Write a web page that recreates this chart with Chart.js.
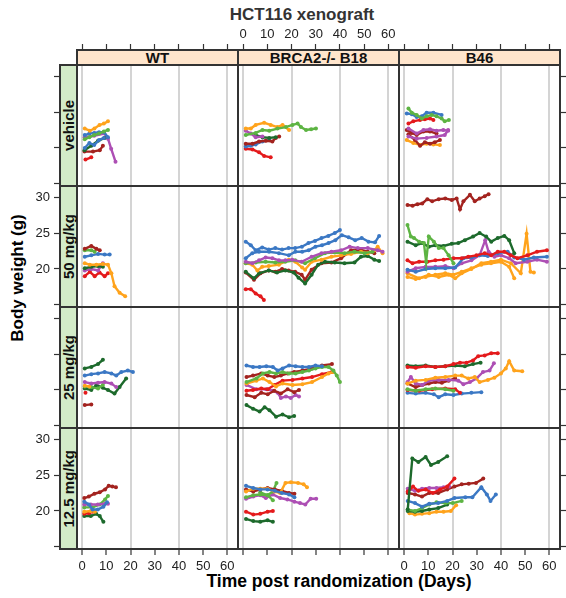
<!DOCTYPE html>
<html>
<head>
<meta charset="utf-8">
<script src="https://cdn.jsdelivr.net/npm/chart.js@4.4.1/dist/chart.umd.min.js"></script>
<style>
  body { margin: 0; background: #fff; font-family: "Liberation Sans", Arial, sans-serif; }
  #wrap { position: relative; width: 566px; height: 598px; overflow: hidden; }
  #wrap canvas { position: absolute; }
  .box { position: absolute; box-sizing: border-box; border: 2px solid #333; }
  .strip { display: flex; align-items: center; justify-content: center; font-weight: bold; font-size: 15px; color: #111; }
  .strip.side span { writing-mode: vertical-rl; transform: rotate(180deg); }
  .txt { position: absolute; font-weight: bold; white-space: nowrap; }
</style>
</head>
<body>
<div id="wrap">
  <div class="txt" style="left:302px;top:15px;transform:translate(-50%,-50%);font-size:17px;color:#333">HCT116 xenograft</div>
  <div class="txt" style="left:18px;top:278px;transform:translate(-50%,-50%) rotate(-90deg);font-size:17px;color:#000">Body weight (g)</div>
  <div class="txt" style="left:339px;top:581px;transform:translate(-50%,-50%);font-size:17.5px;color:#000">Time post randomization (Days)</div>
</div>
<script>
// categories
const lines = ["WT", "BRCA2-/- B18", "B46"];
const doses = ["vehicle", "50 mg/kg", "25 mg/kg", "12.5 mg/kg"];
const weightLabels = [20, 25, 30];

// one entry per mouse: [colour key, days, body weight (g)]
const vehWT = [
  ["orange", [1.1, 3.2, 5.1, 7.2, 9, 10.7], [22.7, 22.4, 22.7, 23.2, 23.4, 23.7]],
  ["green", [1.1, 3, 5, 7, 9, 10.7], [21.2, 21.5, 21.8, 22.0, 22.3, 22.5]],
  ["blue", [1.1, 3, 5, 7, 9, 10.7], [21.8, 22.0, 22.1, 22.2, 22.2, 21.5]],
  ["blue", [1.1, 3, 5, 7, 9], [20.0, 20.7, 20.4, 21.1, 21.4]],
  ["dkgreen", [1, 3.8, 6.6, 9.3], [19.7, 20.3, 21.0, 21.4]],
  ["purple", [1.1, 5, 9.2, 10.7, 12, 13.8], [21.5, 21.7, 22.0, 21.3, 19.9, 18.1]],
  ["dkred", [1, 4.5, 7.3, 8.6], [19.5, 19.5, 19.7, 20.3]],
  ["red", [1.4, 3.8], [18.4, 18.7]]
];
const vehB18 = [
  ["green", [1.1, 5.2, 8, 10.8, 14.2, 17.7, 20.4, 22.5, 23.9, 26, 28.1, 30.1], [21.8, 22.1, 22.5, 22.4, 22.7, 22.9, 23.2, 23.4, 22.9, 22.5, 22.6, 22.7]],
  ["orange", [1.1, 3.2, 5.2, 8.7, 11.4, 14.2, 16.3, 19], [22.7, 22.7, 23.2, 23.5, 23.2, 22.9, 23.2, 22.5]],
  ["purple", [1.1, 3.2, 5.2, 8], [22.4, 22.0, 21.5, 21.6]],
  ["dkgreen", [5.2, 8, 10.8, 13.5], [21.8, 21.5, 21.4, 21.5]],
  ["dkred", [1.1, 3.9, 6.6, 9.4, 12.1, 13.5, 14.9], [20.6, 20.6, 20.9, 21.0, 20.9, 21.4, 21.6]],
  ["blue", [1.1, 3.2, 5.2, 8, 10.8], [20.2, 20.3, 20.5, 20.9, 21.1]],
  ["red", [1.1, 3.9, 6.6, 8.7, 11.4], [19.9, 19.8, 19.4, 18.9, 18.7]]
];
const vehB46 = [
  ["green", [1.8, 3.2, 5.2, 7.3, 9.3, 11.4, 13.4, 15.5, 16.8, 18.5], [25.5, 24.9, 24.6, 24.1, 24.4, 24.6, 24.4, 24.1, 23.7, 23.9]],
  ["blue", [1.1, 3.2, 5.2, 7.3, 9.3, 12.1, 15.5], [24.8, 24.7, 24.3, 24.4, 24.9, 24.9, 24.6]],
  ["red", [1.8, 3.8, 6.6, 8.6, 10.7, 12.1], [23.4, 23.7, 23.9, 24.0, 24.1, 23.9]],
  ["purple", [1.8, 5.2, 8, 10.7, 13.4, 16.2, 18.2], [22.7, 22.0, 22.5, 22.6, 22.4, 22.5, 22.4]],
  ["purple", [1.8, 5.2, 9.3, 13.4, 16.8, 18.2], [21.6, 21.3, 21.4, 21.6, 21.8, 22.5]],
  ["dkred", [1.1, 3.2, 5.2, 8, 10.7, 13.4], [22.5, 22.1, 21.8, 22.3, 22.3, 22.0]],
  ["dkred", [1.8, 4.5, 6.6, 8.6, 10.7, 12.7, 14.8], [21.9, 21.1, 20.3, 20.8, 20.6, 20.8, 21.1]],
  ["orange", [1.1, 3.8, 6.6, 9.3, 12.1, 14.8], [21.1, 20.7, 20.4, 20.6, 20.5, 20.4]]
];
const d50WT = [
  ["dkred", [1.1, 3.8, 5.9, 7.3], [22.8, 23.2, 22.8, 22.6]],
  ["green", [1.1, 3.8, 5.2], [22.6, 22.6, 22.4]],
  ["blue", [1.1, 3.8, 6.6, 9.3, 11.4], [21.7, 21.9, 22.1, 22.0, 22.0]],
  ["orange", [1.1, 3.2, 5.9, 8.6, 10.7, 12.1, 13.4, 15.5, 17.8], [20.8, 20.6, 20.6, 20.7, 20.6, 19.4, 17.6, 16.7, 16.2]],
  ["dkgreen", [1.1, 3.8, 6.6, 8.6], [20.1, 20.3, 20.4, 20.3]],
  ["purple", [1.1, 3.8, 6.6, 8.6], [19.8, 20.0, 19.8, 20.8]],
  ["red", [1.1, 3.2, 5.2, 7.2, 9.3, 10.7], [19.0, 19.6, 19.0, 19.5, 19.0, 19.4]]
];
const d50B18 = [
  ["blue", [1.1, 3.2, 5.2, 7.9, 10.6, 13.3, 16.1, 18.8, 21.5, 24.3, 27, 29.7, 32.4, 35.2, 37.9, 40], [23.8, 23.3, 22.6, 23.0, 22.7, 22.9, 22.7, 22.9, 22.9, 23.1, 23.6, 23.9, 24.3, 24.6, 25.0, 25.4]],
  ["blue", [1.1, 3.8, 6.6, 10.7, 14.8, 18.9, 21.6, 24.4, 27.1, 29.9, 32.6, 35.3, 38.1, 40.8, 43.6, 46.3, 49, 51.8, 54.5, 56.2], [21.5, 22.2, 22.4, 22.4, 22.2, 21.9, 22.4, 22.4, 22.6, 23.1, 23.3, 23.6, 24.0, 24.7, 24.4, 24.0, 24.3, 23.8, 23.7, 24.6]],
  ["purple", [1.1, 3.8, 6.6, 9.3, 12.1, 14.8, 17.5, 20.3, 24.2, 28.3, 32.4, 36.5, 40.5, 44, 47.4, 51.5, 55.6, 57.6], [21.0, 20.8, 21.2, 21.6, 21.5, 21.2, 21.2, 21.3, 21.0, 21.7, 22.2, 22.4, 22.6, 23.1, 22.9, 22.9, 22.6, 22.4]],
  ["green", [1.1, 5.2, 9.3, 13.3, 17.4, 21.5, 25.6, 29.7, 33.8, 37.9, 41.9, 46, 50.1, 53.5], [20.8, 20.9, 21.0, 20.9, 21.0, 21.2, 20.8, 21.5, 22.2, 22.3, 22.2, 22.4, 22.2, 22.4]],
  ["orange", [1.1, 3.8, 5.9, 7.9, 10.6, 14.8, 18.9, 21.6, 24.4, 25.6, 28.3, 32.4, 36.5, 40.5, 44.6, 48.7, 51.5, 54.2, 55.6, 57.6], [20.8, 20.6, 19.8, 20.3, 20.4, 20.6, 21.3, 21.0, 20.2, 19.9, 21.0, 21.3, 21.7, 21.9, 22.1, 22.4, 22.2, 22.6, 23.1, 22.2]],
  ["dkgreen", [1.1, 4.5, 6.6, 10.6, 14, 17.5, 20.9, 22.9, 25.6, 28.3, 31, 33.8, 37.9, 41.9, 46, 48.7, 51.5, 54.2, 56.2], [19.6, 18.7, 19.4, 19.8, 19.5, 19.8, 19.5, 18.8, 18.0, 19.2, 20.6, 21.0, 20.9, 20.8, 20.9, 21.7, 21.8, 21.3, 21.1]],
  ["dkred", [1.1, 4.5, 7.2, 10.6, 13.3, 16.1, 18.8, 21.5, 24.2, 25.6, 28.3, 32.4, 36.5, 40.5, 44.6, 48, 51.5, 54.2], [19.5, 18.5, 19.4, 19.8, 19.6, 20.0, 19.8, 19.6, 19.2, 18.5, 19.9, 20.8, 20.9, 21.5, 22.6, 22.7, 22.4, 22.2]],
  ["red", [1.1, 3.2, 5.2, 7.2, 8.6], [17.2, 17.2, 16.6, 16.2, 15.7]]
];
const d50B46 = [
  ["dkred", [1.4, 3.5, 5.5, 7.5, 9.6, 11.6, 14.3, 17, 19.7, 21.7, 23.1, 24.5, 27.2, 29.2, 31.2, 33.3, 34.9], [28.9, 28.8, 29.0, 29.1, 29.7, 29.4, 29.7, 29.8, 29.6, 29.8, 28.3, 29.4, 30.3, 29.4, 29.8, 30.1, 30.4]],
  ["green", [1.4, 2.8, 4.1, 6.2, 8.2, 9.1, 10.2, 12.3, 14.3, 16.3, 18.4, 20.4], [26.1, 24.5, 24.3, 23.8, 23.6, 21.0, 24.5, 23.8, 22.9, 22.9, 21.9, 20.8]],
  ["dkgreen", [1.4, 4.8, 7.5, 10.2, 12.9, 16.3, 19.7, 22.4, 25.1, 28.5, 31.2, 33.9, 36, 38.7, 41.4, 43.4, 45.5], [23.8, 23.3, 23.6, 23.1, 23.3, 23.2, 23.5, 23.6, 24.0, 24.5, 25.0, 24.5, 23.8, 24.3, 24.6, 24.0, 22.2]],
  ["red", [1.4, 3.5, 6.2, 9.6, 12.9, 16.3, 20.4, 23.8, 26.5, 29.9, 33.3, 36, 38.7, 41.4, 44.1, 46.8, 50.9, 54.9, 59], [21.2, 20.8, 21.0, 21.0, 21.2, 21.3, 21.5, 21.5, 21.7, 21.9, 22.2, 21.9, 22.4, 22.4, 21.9, 21.5, 21.9, 22.4, 22.6]],
  ["blue", [1.4, 4.8, 8.9, 12.9, 17, 21.1, 24.5, 27.8, 31.2, 34.6, 38.7, 42.8, 45.5, 49.5, 53.6, 59], [19.9, 19.6, 20.0, 20.1, 20.1, 20.2, 21.5, 21.6, 21.9, 21.8, 22.2, 22.4, 21.6, 21.3, 21.6, 21.7]],
  ["purple", [1.4, 4.8, 8.9, 12.9, 17, 20.4, 23.8, 27.8, 31.2, 33.5, 34.9, 37.3, 40, 43.4, 46.1, 50.9, 54.9, 59], [19.6, 20.1, 20.3, 20.3, 20.4, 20.1, 20.8, 21.2, 21.9, 24.0, 22.4, 21.7, 21.9, 21.5, 20.8, 21.0, 21.3, 21.0]],
  ["orange", [1.4, 4.8, 8.9, 12.9, 17, 20.4, 23.8, 27.8, 31.9, 35.9, 40, 43.4, 45.5], [18.9, 18.6, 18.9, 19.2, 19.4, 19.2, 19.6, 20.1, 20.6, 20.8, 21.0, 20.3, 18.7]],
  ["orange", [1.4, 6.2, 10.2, 14.3, 18.4, 21.1, 23.8, 27.8, 31.9, 35.9, 40, 44.1, 48.2, 50.6, 52.2, 53.6], [19.4, 18.7, 19.2, 18.9, 19.2, 18.7, 19.4, 20.0, 20.8, 21.0, 21.3, 20.8, 19.4, 24.9, 19.6, 19.5]]
];
const d25WT = [
  ["dkgreen", [1.1, 3.8, 6.6, 8.6], [23.0, 23.2, 23.6, 24.2]],
  ["blue", [1.1, 3.8, 6.6, 9.3, 12.1, 14.1, 16.2, 18.9, 21], [22.0, 22.2, 22.3, 22.5, 22.3, 22.0, 22.5, 22.7, 22.5]],
  ["purple", [1.1, 3.8, 6.6, 9.3, 12.1, 14.1], [21.1, 20.9, 21.0, 21.1, 20.9, 20.4]],
  ["orange", [1.1, 3], [20.6, 20.5]],
  ["green", [1.1, 3.8, 6.6, 8.6], [20.5, 20.4, 20.2, 20.7]],
  ["dkgreen", [1.1, 3.8, 5.9, 8.6, 10.7, 13.4, 15.5, 18.2], [20.2, 20.0, 20.7, 20.3, 20.0, 19.5, 20.4, 21.6]],
  ["red", [1.4], [19.6]],
  ["dkred", [1.1, 3.8], [17.9, 18.0]]
];
const d25B18 = [
  ["blue", [1.4, 4.1, 6.8, 9.6, 12.3, 14.3, 16.3, 19, 21.7, 24.5, 27.2, 29.9, 32.6], [23.4, 23.2, 23.2, 23.3, 23.2, 22.7, 23.0, 23.4, 23.3, 23.2, 23.2, 23.4, 23.3]],
  ["green", [1.4, 5.5, 8.2, 10.9, 13.6, 16.3, 19, 21.7, 24.5, 27.2, 29.9, 32.6, 35.3, 37.3, 38.7, 40], [21.1, 21.6, 22.3, 22.5, 22.3, 22.5, 22.3, 22.3, 22.5, 22.7, 23.0, 23.2, 23.2, 22.7, 22.0, 21.1]],
  ["dkred", [1.4, 4.1, 7.5, 10.2, 12.9, 15.6, 18.4, 21.1, 24.5, 28.5, 32.6, 36.7], [21.8, 22.0, 22.3, 22.0, 21.8, 22.0, 22.3, 22.5, 22.7, 23.0, 23.4, 23.6]],
  ["orange", [1.4, 5.5, 8.2, 10.9, 13.6, 16.3, 20.4, 24.5, 28.5, 32.6, 35.3, 37.3], [20.9, 21.3, 21.6, 21.1, 20.5, 20.9, 20.7, 20.8, 21.1, 21.8, 22.3, 22.5]],
  ["red", [1.4, 4.1, 7.5, 10.2, 12.9, 16.3, 20.4, 24.5, 28.5, 32.6, 36.7], [19.9, 20.0, 20.2, 20.1, 20.7, 21.3, 21.4, 21.6, 21.8, 22.2, 22.5]],
  ["dkred", [1.4, 4.8, 7.5, 10.2, 12.9, 15.6, 18.4, 21.1, 23.1], [19.3, 19.0, 19.6, 19.4, 19.9, 19.5, 20.1, 19.7, 20.0]],
  ["purple", [1.4, 5.5, 9.6, 12.3, 14.3, 15.6, 17.7, 19.7, 21.7, 23.1], [20.7, 20.1, 20.1, 19.9, 19.6, 18.9, 19.1, 18.9, 19.3, 19.1]],
  ["dkgreen", [1.4, 4.1, 6.8, 8.9, 10.9, 13.6, 16.3, 19, 21.1], [17.9, 17.4, 17.0, 17.6, 17.2, 16.3, 16.6, 16.2, 16.4]]
];
const d25B46 = [
  ["red", [1.4, 4.8, 8.9, 12.9, 17, 20.4, 23.1, 25.8, 28.5, 30.6, 33.3, 36, 38.7], [23.2, 23.1, 23.3, 23.2, 23.3, 23.6, 23.8, 23.8, 24.1, 24.7, 24.8, 25.1, 25.1]],
  ["dkgreen", [1.4, 4.8, 8.9, 12.9, 17, 21.1, 25.1, 28.5, 31.6], [23.4, 23.3, 23.4, 23.2, 23.3, 23.4, 23.3, 23.6, 23.8]],
  ["orange", [1.4, 4.8, 8.9, 12.9, 17, 21.1, 23.8, 26.5, 29.2, 31.2, 34.6, 37.3, 40, 42, 43.4, 45.5, 48.8], [20.9, 21.3, 21.4, 21.7, 21.8, 22.0, 22.0, 21.6, 21.8, 21.1, 21.4, 21.7, 22.3, 23.0, 24.0, 22.7, 22.6]],
  ["purple", [1.4, 2.8, 4.8, 7.5, 10.2, 14.3, 18.4, 22.4, 24.5, 27.2, 29.9, 32.6, 35.3, 37.1], [21.1, 21.8, 20.9, 20.7, 21.3, 21.4, 21.4, 21.3, 20.8, 21.1, 21.6, 22.5, 22.7, 23.7]],
  ["dkred", [1.4, 4.8, 7.5, 10.2, 12.9, 15.6, 18.4, 21.1], [20.9, 20.4, 20.7, 20.9, 21.1, 21.0, 21.3, 21.6]],
  ["green", [1.4, 4.8, 8.9, 12.9, 17, 20.4], [20.1, 19.9, 20.1, 20.2, 20.1, 19.9]],
  ["red", [1.4, 6.2, 11.6, 17, 21.1, 23.1], [20.0, 19.9, 20.1, 20.2, 20.1, 19.6]],
  ["blue", [1.4, 4.8, 8.9, 12.3, 14.3, 17, 20.4, 23.8, 27.8, 31.9], [19.6, 19.5, 19.6, 19.4, 19.0, 19.4, 19.3, 19.5, 19.6, 19.7]]
];
const d12WT = [
  ["dkred", [0.9, 2.8, 5.1, 7.3, 9.5, 11, 12.5, 14], [21.8, 22.0, 22.4, 22.6, 23.0, 23.5, 23.4, 23.3]],
  ["blue", [0.9, 2.8, 4.3, 6.5, 8.8, 10.3], [21.3, 20.9, 20.2, 20.2, 20.6, 21.2]],
  ["purple", [0.9, 3.6, 6.5, 9.5, 10.7], [20.9, 20.9, 20.9, 21.0, 21.0]],
  ["green", [0.9, 4.3, 7.3, 9.5, 10.7], [20.5, 20.5, 20.9, 21.6, 22.1]],
  ["orange", [0.9, 3.6, 5.3], [19.9, 20.0, 19.9]],
  ["red", [0.9, 2.8, 4.3], [19.6, 19.7, 19.9]],
  ["dkgreen", [0.9, 3.6, 5.8, 7.3, 8.8], [19.3, 19.3, 19.6, 19.3, 18.5]]
];
const d12B18 = [
  ["blue", [1.2, 4.2, 7.1, 10.1, 13.1, 16, 19, 21.2], [23.5, 23.2, 23.0, 23.0, 22.8, 22.5, 22.3, 21.9]],
  ["orange", [1.2, 4.2, 7.1, 10.1, 13.1, 15.3, 17.5, 19.8, 22.7, 25, 26.4], [22.7, 23.1, 23.1, 23.1, 22.7, 22.5, 23.9, 24.0, 23.9, 23.7, 23.3]],
  ["dkred", [1.2, 4.2, 7.1, 10.1, 13.1, 16, 19, 21.2], [23.0, 22.7, 23.0, 23.2, 23.0, 22.8, 22.5, 22.4]],
  ["green", [1.2, 4.2, 7.1, 10.1, 12.3, 13.8], [21.9, 22.2, 22.3, 22.2, 22.7, 23.9]],
  ["green", [7.1, 10.1, 12.3], [22.6, 22.2, 21.5]],
  ["purple", [1.2, 4.2, 7.1, 9.4, 12.3, 15.3, 18.3, 21.2, 23.5, 25.7, 27.9, 30.2], [21.7, 22.0, 22.2, 21.8, 22.3, 21.8, 21.6, 21.3, 21.1, 20.9, 21.7, 21.7]],
  ["red", [1.2, 4.2, 7.1, 10.1, 12.3], [19.9, 19.5, 19.6, 19.9, 20.0]],
  ["dkgreen", [1.2, 4.2, 7.1, 10.1, 12.3], [18.9, 18.6, 18.5, 18.7, 18.5]]
];
const d12B46 = [
  ["dkgreen", [1.5, 3.4, 5.9, 8.9, 11.1, 14.1, 17.8], [20.2, 27.3, 26.8, 27.5, 26.4, 26.8, 27.6]],
  ["red", [1.5, 3.7, 5.9, 8.9, 11.9, 14.9, 17.8, 20.8], [22.7, 23.4, 22.8, 23.0, 22.5, 23.0, 23.4, 24.5]],
  ["purple", [1.5, 4.5, 7.4, 10.4, 13.4, 16.3, 18.6], [23.1, 22.8, 23.1, 23.2, 23.2, 23.3, 23.4]],
  ["dkred", [1.5, 4.5, 7.4, 10.4, 14.1, 17.8, 20.8, 23.8, 26.7, 29.7, 32.7], [22.5, 22.3, 22.0, 22.5, 22.5, 23.0, 23.4, 23.7, 23.8, 23.9, 24.5]],
  ["blue", [1.5, 4.5, 7.4, 10.4, 14.1, 17.8, 20.8, 25.3, 28.2, 31.9, 34.2, 35.7, 37.9], [21.4, 21.1, 20.6, 21.0, 21.1, 21.4, 21.8, 21.9, 21.9, 23.3, 22.3, 21.4, 22.3]],
  ["green", [1.5, 4.5, 7.4, 10.4, 13.4, 17.1, 20.1, 23.8], [20.2, 20.0, 20.4, 20.9, 21.2, 21.1, 21.1, 21.4]],
  ["dkgreen", [1.5, 4.5, 7.4, 10.4, 14.1, 17.8], [20.0, 19.9, 20.0, 20.2, 20.4, 20.9]],
  ["orange", [2.2, 4.5, 7.4, 10.4, 13.4, 16.3, 19.3, 21.5], [19.7, 19.5, 19.6, 19.7, 19.9, 19.9, 20.0, 20.8]]
];

const panelSeries = [
  [vehWT, vehB18, vehB46],
  [d50WT, d50B18, d50B46],
  [d25WT, d25B18, d25B46],
  [d12WT, d12B18, d12B46]
];

const mouseColors = {
  red: "#e41a1c", blue: "#3b78c4", green: "#5db443", purple: "#ad4fb4",
  orange: "#ffa31c", dkgreen: "#1d6a2c", dkred: "#a3231f"
};

/* ===== LAYOUT ===== */
const COL_LEFT = [77, 238, 399];
const ROW_TOP = [65, 186, 307, 428];
const PANEL_W = 161, PANEL_H = 121;
const STRIP_TOP = 50, STRIP_LEFT = 60;
const X_MIN = -2.1, X_MAX = 64.4;
const Y_MIN = 14.72, Y_MAX = 31.53;
const PX_DAY = PANEL_W / (X_MAX - X_MIN);
const PX_G = PANEL_H / (Y_MAX - Y_MIN);
const TICK = "#333";

Chart.defaults.font.family = '"Liberation Sans", Arial, sans-serif';
Chart.defaults.font.size = 13;
Chart.defaults.color = "#222";

const wrap = document.getElementById("wrap");

function makePanel(r, c) {
  // chart area also covers the strips next to the outer panels,
  // so the axis ticks land outside the strips like in lattice
  const extL = c === 0 ? COL_LEFT[0] - STRIP_LEFT : 0;
  const extT = r === 0 ? ROW_TOP[0] - STRIP_TOP : 0;
  const axL = c === 0 ? 50 : 0;
  const axR = c === 2 ? 7 : 0;
  const axT = r === 0 ? 30 : 0;
  const axB = r === 3 ? 30 : 0;

  const w = PANEL_W + extL + axL + axR;
  const h = PANEL_H + extT + axT + axB;
  const canvas = document.createElement("canvas");
  canvas.width = w;
  canvas.height = h;
  canvas.style.left = (COL_LEFT[c] - extL - axL) + "px";
  canvas.style.top = (ROW_TOP[r] - extT - axT) + "px";
  canvas.style.width = w + "px";
  canvas.style.height = h + "px";
  wrap.appendChild(canvas);

  const xMin = X_MIN - extL / PX_DAY;
  const yMax = Y_MAX + extT / PX_G;

  const scales = {
    x: {
      type: "linear", position: "bottom", min: xMin, max: X_MAX,
      ticks: { stepSize: 10, includeBounds: false, display: r === 3 && c !== 1, padding: 4, maxRotation: 0, autoSkip: false },
      grid: {
        color: ctx => (ctx.tick && ctx.tick.value % 20 === 0) ? "#d4d4d4" : "rgba(0,0,0,0)",
        lineWidth: 2, drawTicks: r === 3, tickLength: 6, tickColor: TICK, tickWidth: 1.2
      },
      border: { display: false },
      afterFit: s => { s.height = axB; s.paddingLeft = 0; s.paddingRight = 0; }
    },
    y: {
      type: "linear", position: c === 2 ? "right" : "left", display: c !== 1,
      min: Y_MIN, max: yMax,
      ticks: {
        stepSize: 5, includeBounds: false, padding: 4,
        display: c === 0 && (r === 1 || r === 3),
        callback: v => weightLabels.includes(v) ? v : ""
      },
      grid: { drawOnChartArea: false, tickLength: 6, tickColor: TICK, tickWidth: 1.2 },
      border: { display: false },
      afterFit: s => { s.width = c === 0 ? axL : axR; s.paddingTop = 0; s.paddingBottom = 0; }
    }
  };
  if (r === 0) {
    scales.xTop = {
      type: "linear", position: "top", min: xMin, max: X_MAX,
      ticks: { stepSize: 10, includeBounds: false, display: c === 1, padding: 2, maxRotation: 0, autoSkip: false },
      grid: { drawOnChartArea: false, tickLength: 6, tickColor: TICK, tickWidth: 1.2 },
      border: { display: false },
      afterFit: s => { s.height = axT; s.paddingLeft = 0; s.paddingRight = 0; }
    };
  }

  const datasets = panelSeries[r][c].map(([col, days, weights]) => ({
    data: days.map((d, i) => ({ x: d, y: weights[i] })),
    borderColor: mouseColors[col],
    backgroundColor: mouseColors[col],
    borderWidth: 2.4,
    pointRadius: 2,
    pointBorderWidth: 0,
    tension: 0,
    xAxisID: "x",
    yAxisID: "y"
  }));

  new Chart(canvas, {
    type: "line",
    data: { datasets },
    options: {
      responsive: false,
      animation: false,
      events: [],
      layout: { padding: 0, autoPadding: false },
      plugins: { legend: { display: false }, tooltip: { enabled: false } },
      scales
    }
  });
}

for (let r = 0; r < doses.length; r++) {
  for (let c = 0; c < lines.length; c++) makePanel(r, c);
}

/* ===== PANEL BORDERS + STRIPS ===== */
function addBox(cls, left, top, w, h, bg, text) {
  const d = document.createElement("div");
  d.className = cls;
  d.style.left = left + "px";
  d.style.top = top + "px";
  d.style.width = w + "px";
  d.style.height = h + "px";
  if (bg) d.style.background = bg;
  if (text) {
    const s = document.createElement("span");
    s.textContent = text;
    d.appendChild(s);
  }
  wrap.appendChild(d);
}

for (let r = 0; r < doses.length; r++) {
  for (let c = 0; c < lines.length; c++) {
    addBox("box", COL_LEFT[c] - 1, ROW_TOP[r] - 1, PANEL_W + 2, PANEL_H + 2);
  }
}
lines.forEach((name, c) => {
  addBox("box strip", COL_LEFT[c] - 1, STRIP_TOP - 1, PANEL_W + 2, ROW_TOP[0] - STRIP_TOP + 2, "#ffe5cc", name);
});
doses.forEach((name, r) => {
  addBox("box strip side", STRIP_LEFT - 1, ROW_TOP[r] - 1, COL_LEFT[0] - STRIP_LEFT + 2, PANEL_H + 2, "#d3ebc8", name);
});
</script>
</body>
</html>
